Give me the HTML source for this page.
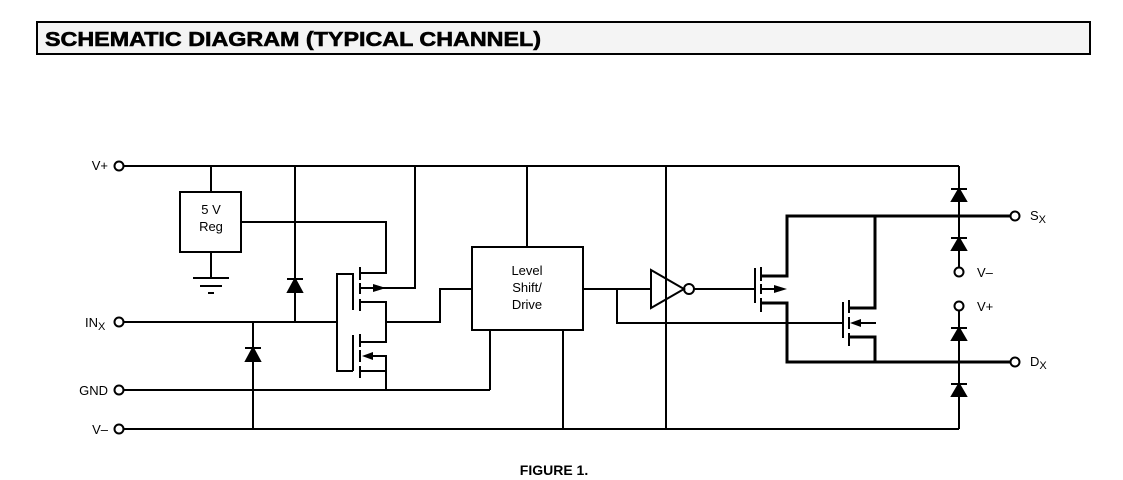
<!DOCTYPE html>
<html><head><meta charset="utf-8"><style>
html,body{margin:0;padding:0;background:#fff;}
svg{display:block;}
text{font-family:"Liberation Sans",Arial,sans-serif;fill:#000;}
</style></head><body>
<svg width="1123" height="480" viewBox="0 0 1123 480" xmlns="http://www.w3.org/2000/svg">
<rect x="37" y="22" width="1053" height="32" fill="#f4f4f4" stroke="#000" stroke-width="2"/>
<text x="45" y="46" font-size="20" font-weight="bold" stroke="#000" stroke-width="0.6" textLength="496" lengthAdjust="spacingAndGlyphs">SCHEMATIC DIAGRAM (TYPICAL CHANNEL)</text>

<g stroke="#000" stroke-width="2" fill="none">
<line x1="124" y1="166" x2="959" y2="166"/>
<line x1="124" y1="429" x2="959" y2="429"/>
<line x1="124" y1="390" x2="490" y2="390"/>
<line x1="124" y1="322" x2="337" y2="322"/>
<line x1="211" y1="166" x2="211" y2="192"/>
<rect x="180" y="192" width="61" height="60"/>
<line x1="211" y1="252" x2="211" y2="278"/>
<line x1="193" y1="278" x2="229" y2="278"/>
<line x1="200" y1="286" x2="222" y2="286"/>
<line x1="208" y1="293" x2="214" y2="293"/>
<polyline points="241,222 386,222 386,273 360,273"/>
<line x1="295" y1="166" x2="295" y2="322"/>
<polyline points="415,166 415,288 375,288"/>
<line x1="253" y1="322" x2="253" y2="429"/>
<polyline points="353,274 337,274 337,371 353,371"/>
<line x1="353" y1="273" x2="353" y2="310"/>
<line x1="360" y1="267" x2="360" y2="280"/>
<line x1="360" y1="283" x2="360" y2="294"/>
<line x1="360" y1="299" x2="360" y2="311"/>
<line x1="360" y1="288" x2="375" y2="288"/>
<polyline points="360,302 386,302 386,342 360,342"/>
<line x1="353" y1="335" x2="353" y2="371"/>
<line x1="360" y1="334" x2="360" y2="347"/>
<line x1="360" y1="350" x2="360" y2="362"/>
<line x1="360" y1="366" x2="360" y2="378"/>
<polyline points="366,356 386,356 386,390"/>
<line x1="360" y1="371" x2="386" y2="371"/>
<polyline points="386,322 440,322 440,289 472,289"/>
<rect x="472" y="247" width="111" height="83"/>
<line x1="527" y1="166" x2="527" y2="247"/>
<line x1="490" y1="330" x2="490" y2="390"/>
<line x1="563" y1="330" x2="563" y2="429"/>
<line x1="583" y1="289" x2="651" y2="289"/>
<polyline points="617,289 617,323 843,323"/>
<line x1="666" y1="166" x2="666" y2="429"/>
<polygon points="651,270 651,308 684,289"/>
<circle cx="689" cy="289" r="5"/>
<line x1="694" y1="289" x2="755" y2="289"/>
<line x1="755" y1="268" x2="755" y2="303"/>
<line x1="761" y1="267" x2="761" y2="281"/>
<line x1="761" y1="284" x2="761" y2="294"/>
<line x1="761" y1="298" x2="761" y2="312"/>
<line x1="761" y1="289" x2="776" y2="289"/>
<line x1="843" y1="302" x2="843" y2="338"/>
<line x1="849" y1="300" x2="849" y2="313"/>
<line x1="849" y1="317" x2="849" y2="329"/>
<line x1="849" y1="333" x2="849" y2="346"/>
<line x1="856" y1="323" x2="876" y2="323"/>
</g>
<g stroke="#000" stroke-width="3" fill="none">
<polyline points="761,276 787,276 787,216 1011,216"/>
<polyline points="761,303 787,303 787,362 1011,362"/>
<polyline points="849,308 875,308 875,216"/>
<polyline points="849,337 875,337 875,362"/>
</g>
<g stroke="#000" stroke-width="2" fill="none">
<line x1="959" y1="166" x2="959" y2="268"/>
<line x1="959" y1="311" x2="959" y2="429"/>
<circle cx="959" cy="272" r="4.5" fill="#fff"/>
<circle cx="959" cy="306" r="4.5" fill="#fff"/>
<circle cx="1015" cy="216" r="4.5" fill="#fff"/>
<circle cx="1015" cy="362" r="4.5" fill="#fff"/>
<circle cx="119" cy="166" r="4.5" fill="#fff"/>
<circle cx="119" cy="322" r="4.5" fill="#fff"/>
<circle cx="119" cy="390" r="4.5" fill="#fff"/>
<circle cx="119" cy="429" r="4.5" fill="#fff"/>
</g>
<g fill="#000" stroke="#000" stroke-width="2">
<polygon points="295,279 288,292 302,292"/><line x1="287" y1="279" x2="303" y2="279"/>
<polygon points="253,348 246,361 260,361"/><line x1="245" y1="348" x2="261" y2="348"/>
<polygon points="959,189 952,201 966,201"/><line x1="951" y1="189" x2="967" y2="189"/>
<polygon points="959,238 952,250 966,250"/><line x1="951" y1="238" x2="967" y2="238"/>
<polygon points="959,328 952,340 966,340"/><line x1="951" y1="328" x2="967" y2="328"/>
<polygon points="959,384 952,396 966,396"/><line x1="951" y1="384" x2="967" y2="384"/>
</g>
<g fill="#000">
<polygon points="386,288 373,284 373,292"/>
<polygon points="362,356 373,352 373,360"/>
<polygon points="787,289 774,285 774,293"/>
<polygon points="850,323 861,319 861,327"/>
</g>
<g font-size="13">
<text x="211" y="214" text-anchor="middle">5 V</text>
<text x="211" y="231" text-anchor="middle">Reg</text>
<text x="527" y="275" text-anchor="middle">Level</text>
<text x="527" y="292" text-anchor="middle">Shift/</text>
<text x="527" y="309" text-anchor="middle">Drive</text>
<text x="108" y="170" text-anchor="end">V+</text>
<text x="108" y="395" text-anchor="end">GND</text>
<text x="108" y="434" text-anchor="end">V–</text>
<text x="85" y="327">IN<tspan font-size="11" dy="3">X</tspan></text>
<text x="977" y="277">V–</text>
<text x="977" y="311">V+</text>
<text x="1030" y="220">S<tspan font-size="11" dy="3">X</tspan></text>
<text x="1030" y="366">D<tspan font-size="11" dy="3">X</tspan></text>
</g>
<text x="554" y="475" font-size="14" font-weight="bold" text-anchor="middle">FIGURE  1.</text>
</svg>
</body></html>
